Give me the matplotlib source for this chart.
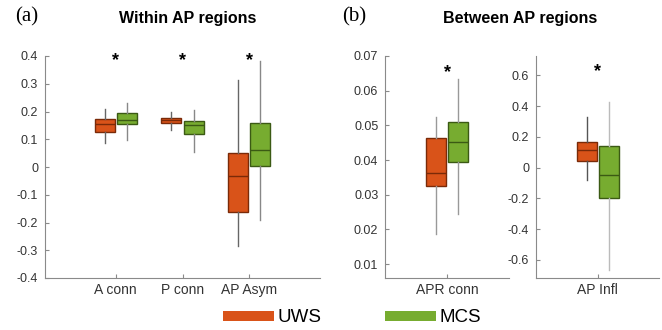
import matplotlib
matplotlib.use("Agg")
import matplotlib.pyplot as plt
from matplotlib.patches import Patch

plt.rcParams['font.family'] = ['Liberation Sans', 'DejaVu Sans']

# box stats: (whislo, q1, med, q3, whishi)
within_labels = ["A conn", "P conn", "AP Asym"]
within_uws = [
    (0.088, 0.127, 0.154, 0.172, 0.208),
    (0.134, 0.157, 0.168, 0.177, 0.199),
    (-0.284, -0.163, -0.032, 0.049, 0.313),
]
within_mcs = [
    (0.096, 0.154, 0.170, 0.193, 0.229),
    (0.054, 0.119, 0.150, 0.166, 0.205),
    (-0.191, 0.002, 0.060, 0.157, 0.383),
]

apr_label = ["APR conn"]
apr_uws = [(0.0187, 0.0324, 0.0362, 0.0464, 0.0525)]
apr_mcs = [(0.0244, 0.0394, 0.0453, 0.0510, 0.0633)]

infl_label = ["AP Infl"]
infl_uws = [(-0.083, 0.041, 0.115, 0.165, 0.328)]
infl_mcs = [(-0.665, -0.200, -0.048, 0.139, 0.430)]

UWS_C, UWS_E = "#D95319", "#7A2A08"
MCS_C, MCS_E = "#77AC30", "#3B5A14"
AX_C = "#8a8a8a"
TXT_C = "#333333"


def to_stats(rows):
    return [dict(whislo=r[0], q1=r[1], med=r[2], q3=r[3], whishi=r[4], fliers=[])
            for r in rows]


def draw_group(ax, rows, pos, width, face, edge, wcol):
    ax.bxp(to_stats(rows), positions=pos, widths=width, patch_artist=True,
           showcaps=False, showfliers=False,
           boxprops=dict(facecolor=face, edgecolor=edge, linewidth=1.0),
           medianprops=dict(color=edge, linewidth=1.0),
           whiskerprops=dict(color=wcol, linewidth=1.0),
           manage_ticks=False, zorder=3)


def style(ax, labels, xlim, ylim, yticks, yfmt):
    ax.set_xlim(*xlim)
    ax.set_ylim(*ylim)
    for s in ["top", "right"]:
        ax.spines[s].set_visible(False)
    for s in ["left", "bottom"]:
        ax.spines[s].set_color(AX_C)
        ax.spines[s].set_linewidth(0.8)
    ax.set_xticks(range(1, len(labels) + 1))
    ax.set_xticklabels(labels)
    ax.set_yticks(yticks)
    ax.set_yticklabels([yfmt(v) for v in yticks])
    ax.tick_params(direction="in", length=3, color=AX_C, labelcolor=TXT_C)
    ax.tick_params(axis="y", labelsize=9, pad=5)
    ax.tick_params(axis="x", labelsize=10, pad=3.5)


def fmt(v):
    s = ("%.2f" % v).rstrip("0").rstrip(".")
    return "0" if s in ("-0", "0") else s


fig = plt.figure(figsize=(6.62, 3.30), dpi=100)
bottom, height = 1 - 278 / 330, 222 / 330

# panel (a)
ax1 = fig.add_axes([45 / 662, bottom, 275 / 662, height])
n = len(within_labels)
x = list(range(1, n + 1))
draw_group(ax1, within_uws, [i - 0.165 for i in x], 0.3, UWS_C, UWS_E, "#666666")
draw_group(ax1, within_mcs, [i + 0.165 for i in x], 0.3, MCS_C, MCS_E, "#888888")
style(ax1, within_labels, (-0.058, 4.058), (-0.4, 0.4),
      [-0.4, -0.3, -0.2, -0.1, 0, 0.1, 0.2, 0.3, 0.4], fmt)
for i in x:
    ax1.text(i, 0.385, "*", ha="center", va="center", fontsize=13, fontweight="bold")

# panel (b) left
ax2 = fig.add_axes([385.3 / 662, bottom, 123.4 / 662, height])
draw_group(ax2, apr_uws, [1 - 0.089], 0.162, UWS_C, UWS_E, "#999999")
draw_group(ax2, apr_mcs, [1 + 0.089], 0.162, MCS_C, MCS_E, "#999999")
style(ax2, apr_label, (0.5, 1.5), (0.006, 0.07),
      [0.01, 0.02, 0.03, 0.04, 0.05, 0.06, 0.07], lambda v: "%.2f" % v)
ax2.text(1, 0.0652, "*", ha="center", va="center", fontsize=13, fontweight="bold")

# panel (b) right
ax3 = fig.add_axes([536.3 / 662, bottom, 122.7 / 662, height])
draw_group(ax3, infl_uws, [1 - 0.089], 0.162, UWS_C, UWS_E, "#555555")
draw_group(ax3, infl_mcs, [1 + 0.089], 0.162, MCS_C, MCS_E, "#bbbbbb")
style(ax3, infl_label, (0.5, 1.5), (-0.717, 0.726),
      [-0.6, -0.4, -0.2, 0, 0.2, 0.4, 0.6], fmt)
ax3.text(1, 0.625, "*", ha="center", va="center", fontsize=13, fontweight="bold")

# titles and panel letters
fig.text(187.5 / 662, 1 - 18 / 330, "Within AP regions", ha="center", va="center",
         fontsize=11.5, fontweight="bold")
fig.text(519.7 / 662, 1 - 18 / 330, "Between AP regions", ha="center", va="center",
         fontsize=11.5, fontweight="bold")
fig.text(15 / 662, 1 - 17 / 330, "(a)", ha="left", va="center", fontsize=15,
         family="Liberation Serif")
fig.text(342 / 662, 1 - 17 / 330, "(b)", ha="left", va="center", fontsize=15,
         family="Liberation Serif")

# legend
for lab, col, xpos in [("UWS", UWS_C, 223 / 662), ("MCS", MCS_C, 385 / 662)]:
    fig.legend(handles=[Patch(facecolor=col, edgecolor="none", label=lab)],
               loc="center left", bbox_to_anchor=(xpos, 1 - 318 / 330),
               frameon=False, fontsize=13.5, handlelength=2.7, handleheight=0.45,
               handletextpad=0.2, borderaxespad=0, borderpad=0)

fig.savefig("out.png", dpi=100)
